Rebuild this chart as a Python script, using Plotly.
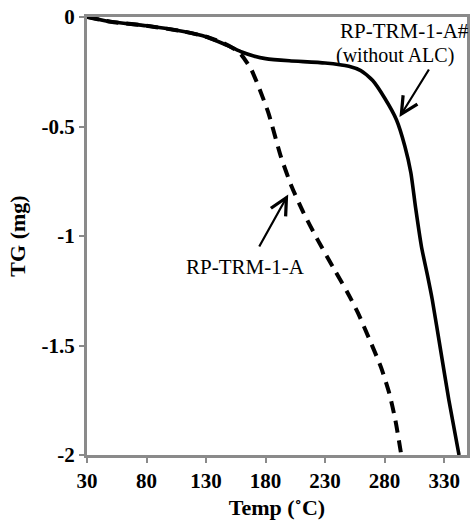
import plotly.graph_objects as go

# Data
temp_a = [30, 50, 80, 110, 130, 145, 155, 160, 168, 175, 182.5, 193, 202, 212, 224, 238, 249, 257.5, 267.5, 277, 284, 289, 294]
tg_a = [0, -0.022, -0.04, -0.065, -0.09, -0.12, -0.15, -0.175, -0.24, -0.33, -0.44, -0.64, -0.775, -0.895, -1.02, -1.155, -1.26, -1.35, -1.475, -1.6, -1.72, -1.84, -2.0]

temp_b = [30, 50, 80, 110, 130, 150, 160, 170, 180, 200, 230, 250, 260, 270, 280, 290, 297, 302, 306, 311, 316, 320, 327, 334, 342.5]
tg_b = [0, -0.022, -0.04, -0.065, -0.09, -0.135, -0.16, -0.178, -0.19, -0.2, -0.21, -0.225, -0.245, -0.29, -0.37, -0.47, -0.59, -0.71, -0.87, -1.05, -1.18, -1.29, -1.52, -1.75, -2.0]

x_ticks = [30, 80, 130, 180, 230, 280, 330]
x_ticktext = ["30", "80", "130", "180", "230", "280", "330"]
y_ticks = [0, -0.5, -1, -1.5, -2]
y_ticktext = ["0", "-0.5", "-1", "-1.5", "-2"]

label_b = ["RP-TRM-1-A#", "(without ALC)"]
label_a = "RP-TRM-1-A"

FONT = "Liberation Serif, Times New Roman, serif"
GRAY = "#8a8a8a"

fig = go.Figure()
fig.add_trace(go.Scatter(x=temp_b, y=tg_b, mode="lines", line=dict(color="black", width=3.6, shape="spline", smoothing=0.6),
                         showlegend=False, hoverinfo="skip"))
fig.add_trace(go.Scatter(x=temp_a, y=tg_a, mode="lines", line=dict(color="black", width=4, dash="12px,8px", shape="spline", smoothing=0.6),
                         showlegend=False, hoverinfo="skip"))

# arrows
fig.add_annotation(x=292.5, y=-0.457, ax=318, ay=-0.233, xref="x", yref="y", axref="x", ayref="y",
                   text="", showarrow=True, arrowhead=5, arrowsize=1.5, arrowwidth=2.2, arrowcolor="black", standoff=0)
fig.add_annotation(x=199, y=-0.81, ax=174, ay=-1.055, xref="x", yref="y", axref="x", ayref="y",
                   text="", showarrow=True, arrowhead=5, arrowsize=1.5, arrowwidth=2.2, arrowcolor="black", standoff=0)

# labels
fig.add_annotation(x=296.7, y=-0.064, xref="x", yref="y", text=label_b[0], showarrow=False,
                   font=dict(family=FONT, size=21, color="black"), xanchor="center", yanchor="middle")
fig.add_annotation(x=289, y=-0.178, xref="x", yref="y", text=label_b[1], showarrow=False,
                   font=dict(family=FONT, size=20, color="black"), xanchor="center", yanchor="middle")
fig.add_annotation(x=163.3, y=-1.14, xref="x", yref="y", text=label_a, showarrow=False,
                   font=dict(family=FONT, size=21, color="black"), xanchor="center", yanchor="middle")

fig.update_layout(
    width=473, height=525,
    margin=dict(l=87, r=3, t=17, b=70),
    paper_bgcolor="white", plot_bgcolor="white",
    font=dict(family=FONT, color="black"),
    xaxis=dict(range=[30, 349.2], tickvals=x_ticks, ticktext=x_ticktext, showgrid=False, zeroline=False,
               showline=True, linecolor=GRAY, linewidth=3, mirror=True,
               ticks="outside", ticklen=5, tickcolor=GRAY, tickwidth=1.5,
               tickfont=dict(family=FONT, size=21, weight="bold", color="black"),
               title=dict(text="Temp (˚C)", font=dict(family=FONT, size=22, weight="bold", color="black"), standoff=8)),
    yaxis=dict(range=[-2, 0], tickvals=y_ticks, ticktext=y_ticktext, showgrid=False, zeroline=False,
               showline=True, linecolor=GRAY, linewidth=3, mirror=True,
               ticks="outside", ticklen=5, tickcolor=GRAY, tickwidth=1.5,
               tickfont=dict(family=FONT, size=21, weight="bold", color="black"),
               title=dict(text="TG (mg)", font=dict(family=FONT, size=22, weight="bold", color="black"), standoff=10)),
)

fig.write_html("out.html")
